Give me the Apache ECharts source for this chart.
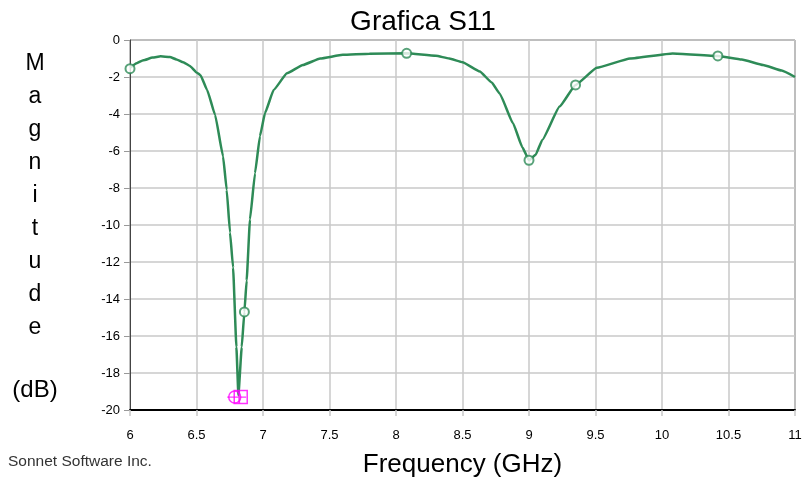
<!DOCTYPE html>
<html><head><meta charset="utf-8">
<script src="https://cdn.jsdelivr.net/npm/echarts@6/dist/echarts.min.js"></script>
<style>html,body{margin:0;padding:0;background:#fff}#c{width:804px;height:483px}</style>
</head><body><div id="c"></div>
<script>
const freqGHz = [6.0, 6.05, 6.1, 6.17, 6.23, 6.3, 6.35, 6.4, 6.45, 6.5, 6.53, 6.58, 6.64, 6.70, 6.727, 6.752, 6.775, 6.80, 6.815, 6.84, 6.86, 6.877, 6.902, 6.94, 6.977, 7.015, 7.08, 7.18, 7.3, 7.43, 7.6, 7.8, 8.08, 8.3, 8.4, 8.5, 8.63, 8.72, 8.78, 8.88, 8.95, 9.0, 9.05, 9.1, 9.23, 9.35, 9.51, 9.76, 10.08, 10.42, 10.6, 10.76, 10.9, 11.0];
const s11dB = [-1.5, -1.25, -1.1, -0.95, -0.88, -0.92, -1.05, -1.2, -1.4, -1.75, -1.9, -2.7, -4.05, -6.3, -8.1, -10.4, -12.3, -16.6, -19.2, -16.6, -14.7, -13.0, -9.7, -7.2, -5.2, -3.95, -2.7, -1.8, -1.35, -1.0, -0.8, -0.74, -0.72, -0.85, -1.0, -1.2, -1.7, -2.3, -2.9, -4.5, -5.8, -6.5, -6.2, -5.4, -3.6, -2.43, -1.5, -1.0, -0.73, -0.86, -1.05, -1.35, -1.65, -2.0];
const markerFreq = [6.0, 6.86, 8.08, 9.0, 9.35, 10.42];
const markerDB = [-1.55, -14.7, -0.72, -6.5, -2.43, -0.86];
const minFreq = [6.81];
const minDB = [-19.3];

const green = '#2e8b57';
const font = 'Arial, Liberation Sans, sans-serif';
const chart = echarts.init(document.getElementById('c'));
chart.setOption({
  animation: false,
  title: { text: 'Grafica S11', left: 418, top: 3, textAlign: 'center',
    textStyle: { fontFamily: font, fontSize: 28, fontWeight: 'normal', color: '#000' } },
  grid: { left: 130, right: 9, top: 40, bottom: 73, show: true, borderColor: '#444', borderWidth: 1,
    containLabel: false, outerBoundsMode: 'none' },
  xAxis: { type: 'value', min: 6, max: 11, interval: 0.5,
    name: 'Frequency (GHz)', nameLocation: 'middle', nameGap: 42,
    nameTextStyle: { fontFamily: font, fontSize: 26, color: '#000' },
    axisLine: { show: true, onZero: false, lineStyle: { color: '#000', width: 2 } },
    axisTick: { show: true, length: 6, lineStyle: { color: '#c8c8c8', width: 1.5 } },
    axisLabel: { color: '#000', fontFamily: font, fontSize: 13, margin: 19,
      formatter: v => String(v) },
    splitLine: { show: true, lineStyle: { color: '#c8c8c8', width: 1.5 } } },
  yAxis: { type: 'value', min: -20, max: 0, interval: 2,
    axisLine: { show: true, lineStyle: { color: '#444' } },
    axisTick: { show: true, length: 6, lineStyle: { color: '#999' } },
    axisLabel: { color: '#000', fontFamily: font, fontSize: 13, margin: 10 },
    splitLine: { show: true, lineStyle: { color: '#c8c8c8', width: 1.5 } } },
  graphic: [
    { type: 'text', x: 35, y: 47, style: { text: 'M\na\ng\nn\ni\nt\nu\nd\ne',
      fontFamily: font, fontSize: 23, lineHeight: 33, fill: '#000', align: 'center', verticalAlign: 'top' } },
    { type: 'text', x: 35, y: 390, style: { text: '(dB)', fontFamily: font, fontSize: 24, fill: '#000', align: 'center', verticalAlign: 'middle' } },
    { type: 'text', x: 8, y: 462, style: { text: 'Sonnet Software Inc.', fontFamily: font, fontSize: 15.5, fill: '#333', verticalAlign: 'middle' } }
  ],
  series: [
    { type: 'line', data: freqGHz.map((f, i) => [f, s11dB[i]]), showSymbol: false, smooth: 0.12, smoothMonotone: 'x',
      lineStyle: { color: green, width: 2.5 }, z: 2 },
    { type: 'scatter', data: markerFreq.map((f, i) => [f, markerDB[i]]), symbol: 'circle', symbolSize: 9,
      itemStyle: { color: '#fff', borderColor: green, borderWidth: 2 }, z: 3 },
    { type: 'scatter', data: minFreq.map((f, i) => [f, minDB[i]]), symbol: 'circle', symbolSize: 12, symbolOffset: [-3, 0],
      itemStyle: { color: 'rgba(0,0,0,0)', borderColor: '#ff00ff', borderWidth: 1.5 }, z: 4 },
    { type: 'scatter', data: minFreq.map((f, i) => [f, minDB[i]]), symbol: 'rect', symbolSize: 13, symbolOffset: [3, 0],
      itemStyle: { color: 'rgba(0,0,0,0)', borderColor: '#ff00ff', borderWidth: 1.5 }, z: 4 },
    { type: 'scatter', data: minFreq.map((f, i) => [f, minDB[i]]), symbol: 'path://M0,6L19,6M12,0L12,12', symbolSize: [19, 13], symbolOffset: [-1, 0],
      itemStyle: { color: 'rgba(0,0,0,0)', borderColor: '#ff00ff', borderWidth: 1.5 }, z: 4 }
  ]
});
</script></body></html>
